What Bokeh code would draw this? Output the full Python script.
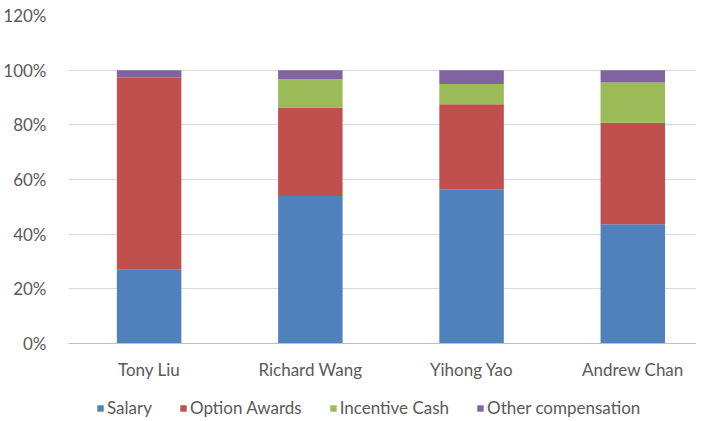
from bokeh.plotting import figure
from bokeh.layouts import column
from bokeh.models import ColumnDataSource, Range1d, FixedTicker, NumeralTickFormatter, Legend, LegendItem
from bokeh.embed import file_html
from bokeh.resources import INLINE

executives = ["Tony Liu", "Richard Wang", "Yihong Yao", "Andrew Chan"]
series = ["Salary", "Option Awards", "Incentive Cash", "Other compensation"]
salary = [27.0, 54.0, 56.4, 43.6]
option_awards = [70.4, 32.3, 31.1, 37.2]
incentive_cash = [0.0, 10.4, 7.4, 14.7]
other_comp = [2.6, 3.3, 5.1, 4.5]
y_ticks = [0, 0.2, 0.4, 0.6, 0.8, 1.0, 1.2]
colors = ["#4F81BD", "#C0504D", "#9BBB59", "#8064A2"]

FONT = "Lato"
TXT = "#595959"
FS = "17px"

xs = [i + 0.5 for i in range(len(executives))]
src = ColumnDataSource(dict(
    x=xs,
    s0=[v / 100 for v in salary],
    s1=[v / 100 for v in option_awards],
    s2=[v / 100 for v in incentive_cash],
    s3=[v / 100 for v in other_comp],
))
cols = ["s0", "s1", "s2", "s3"]

p = figure(width=696, height=384, output_backend="svg", toolbar_location=None,
           x_range=Range1d(0, 3.895), y_range=Range1d(0, 1.2),
           min_border_left=67, min_border_right=0, min_border_top=15, min_border_bottom=41)
p.outline_line_color = None
p.background_fill_color = "white"
p.border_fill_color = "white"

renderers = p.vbar_stack(cols, x="x", width=0.4, source=src,
                         color=colors, line_color=None)

p.xgrid.grid_line_color = None
p.ygrid.grid_line_color = "#D9D9D9"
p.ygrid.grid_line_width = 1

p.yaxis.ticker = FixedTicker(ticks=y_ticks)
p.yaxis.formatter = NumeralTickFormatter(format="0%")
p.yaxis.axis_line_color = None
p.yaxis.major_tick_line_color = None
p.yaxis.minor_tick_line_color = None
p.yaxis.major_label_standoff = 16
p.yaxis.major_label_text_font = FONT
p.yaxis.major_label_text_font_size = FS
p.yaxis.major_label_text_color = TXT

p.xaxis.ticker = FixedTicker(ticks=xs)
p.xaxis.major_label_overrides = {x: n for x, n in zip(xs, executives)}
p.xaxis.axis_line_color = "#BFBFBF"
p.xaxis.major_tick_line_color = None
p.xaxis.minor_tick_line_color = None
p.xaxis.major_label_standoff = 9
p.xaxis.major_label_text_font = FONT
p.xaxis.major_label_text_font_size = FS
p.xaxis.major_label_text_color = TXT

# legend strip below the chart (its bars lie outside its visible y range)
lg = figure(width=696, height=34, output_backend="svg", toolbar_location=None,
            x_range=p.x_range, y_range=Range1d(5, 6),
            min_border_left=67, min_border_right=0, min_border_top=0, min_border_bottom=0)
lg.outline_line_color = None
lg.axis.visible = False
lg.grid.visible = False
keys = [lg.vbar(x="x", top=c, width=0.4, source=src, color=col, line_color=None)
        for c, col in zip(cols, colors)]

legend = Legend(items=[LegendItem(label=s, renderers=[r]) for s, r in zip(series, keys)],
                orientation="horizontal", location=(28, 0),
                glyph_width=8, glyph_height=8, label_standoff=3, spacing=27,
                padding=0, margin=0, border_line_color=None, background_fill_alpha=0,
                label_text_font=FONT, label_text_font_size=FS, label_text_color=TXT)
lg.add_layout(legend, "center")

layout = column(p, lg, spacing=0)
open("out.html", "w").write(file_html(layout, INLINE))
